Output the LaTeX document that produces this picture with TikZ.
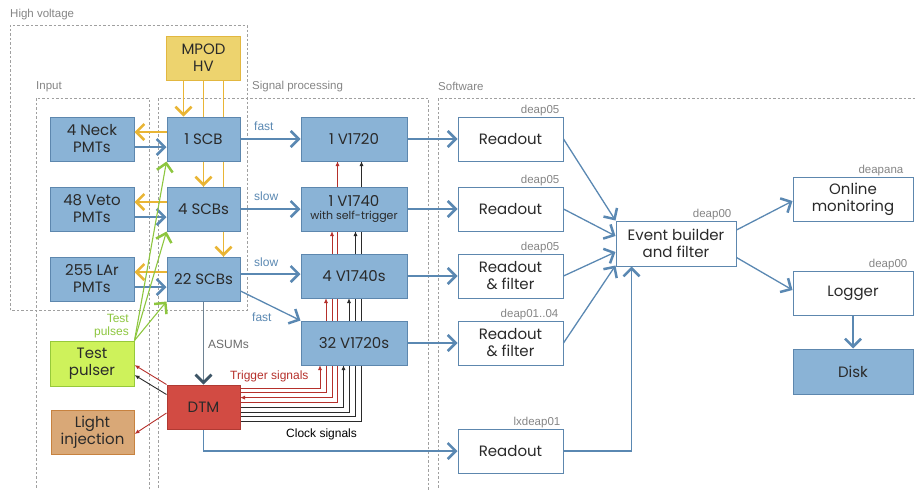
\documentclass[tikz,border=0pt]{standalone}
\usepackage{fontspec}
\setmainfont{Poppins}
\newfontfamily\lab{Liberation Sans}
\usetikzlibrary{arrows.meta,calc}
\definecolor{bfill}{HTML}{8AB3D6}
\definecolor{bborder}{HTML}{5D87AE}
\definecolor{sig}{HTML}{5A88B2}
\definecolor{sigdark}{HTML}{4A79A4}
\definecolor{org}{HTML}{E9B535}
\definecolor{mfill}{HTML}{EDD36E}
\definecolor{mborder}{HTML}{E2B740}
\definecolor{grn}{HTML}{8DC63F}
\definecolor{pfill}{HTML}{CEF25B}
\definecolor{pborder}{HTML}{97C93A}
\definecolor{lfill}{HTML}{D9A877}
\definecolor{lborder}{HTML}{C7823F}
\definecolor{dfill}{HTML}{D24B43}
\definecolor{dborder}{HTML}{B03A33}
\definecolor{wred}{HTML}{B5302B}
\definecolor{wblk}{HTML}{2A2A2A}
\definecolor{dgray}{HTML}{A0A0A0}
\definecolor{lgray}{HTML}{858585}
\definecolor{txt}{HTML}{2A2A2A}
\definecolor{asum}{HTML}{3D5566}
\definecolor{asumline}{HTML}{6E8394}
\begin{document}
\begin{tikzpicture}[x=1pt,y=-1pt,
  region/.style={draw=dgray, line width=0.8pt, dash pattern=on 2.5pt off 2pt},
  rlabel/.style={font=\lab\fontsize{11.5}{13}\selectfont, text=lgray, anchor=base west, inner sep=0pt},
  host/.style={font=\lab\fontsize{11.5}{13}\selectfont, text=lgray, anchor=base east, inner sep=0pt},
  slabel/.style={font=\lab\fontsize{12}{13}\selectfont, anchor=base west, inner sep=0pt},
  box/.style={draw=bborder, fill=bfill, line width=1pt, inner sep=0pt, align=center, font=\fontsize{15}{17}\selectfont, text=txt},
  wbox/.style={box, fill=white},
  chev/.style={-{Straight Barb[length=8pt,width=16pt,line width=2.5pt]}},
  sarrow/.style={draw=sig, line width=1.3pt, chev},
  oarrow/.style={draw=org, line width=1.4pt, chev},
  garrow/.style={draw=grn, line width=1.1pt, chev},
  oline/.style={draw=org, line width=1.4pt},
  rwire/.style={draw=wred, line width=0.9pt},
  bwire/.style={draw=wblk, line width=0.9pt},
  tip/.style={-{Latex[length=5pt,width=4pt]}}
]
\useasboundingbox (0,0) rectangle (916,490);
% regions
\draw[region] (10,310) rectangle (247,25);
\node[rlabel] (lhv) at (10,17.5) {High voltage};
\draw[region] (36,492) -- (36,98) -- (149,98) -- (149,492);
\node[rlabel] (lin) at (36,89.5) {Input};
\draw[region] (158,492) -- (158,98) -- (428,98) -- (428,492);
\node[rlabel] (lsp) at (252,89.5) {Signal processing};
\draw[region] (438,492) -- (438,98) -- (918,98);
\node[rlabel] (lsw) at (438,90.5) {Software};

% background HV lines (behind the SCB boxes)
\coordinate (mpodS) at (203.5,80);
\coordinate (scb4N) at (203.5,187);
\coordinate (scb22N) at (223.5,257);
\coordinate (mpodS2) at (223.5,80);
\draw[oline] (mpodS) -- (scb4N);
\draw[oline] (mpodS2) -- (scb22N);

% wire bundle (DTM right edge x=240, top y=385)
\coordinate (w1) at (240,388);
\coordinate (w2) at (240,392.8);
\coordinate (w3) at (240,397.6);
\coordinate (w4) at (240,402.4);
\coordinate (w5) at (240,407.2);
\coordinate (w6) at (240,412);
\coordinate (w7) at (240,416.8);
\coordinate (w8) at (240,421.6);
\coordinate (t1) at (320,365);
\coordinate (t2) at (326,298);
\coordinate (t3) at (332,231);
\coordinate (t4) at (337.5,161);
\coordinate (t5) at (343.5,365);
\coordinate (t6) at (349,298);
\coordinate (t7) at (355.5,231);
\coordinate (t8) at (361.5,161);
\draw[rwire,tip] (w1) -| (t1);
\draw[rwire,tip] (w2) -| (t2);
\draw[rwire,{Latex[length=5pt,width=4pt]}-{Latex[length=5pt,width=4pt]}] (w3) -| (t3);
\draw[rwire,tip] (w4) -| (t4);
\draw[bwire,tip] (w5) -| (t5);
\draw[bwire,tip] (w6) -| (t6);
\draw[bwire,tip] (w7) -| (t7);
\draw[bwire,tip] (w8) -| (t8);

% boxes
\node[box, fill=mfill, draw=mborder, minimum width=74pt, minimum height=44pt] (mpod) at (203.5,58) {MPOD\\HV};
\node[box, minimum width=84pt, minimum height=44pt] (neck) at (92,139) {4 Neck\\PMTs};
\node[box, minimum width=84pt, minimum height=44pt] (veto) at (92,209) {48 Veto\\PMTs};
\node[box, minimum width=84pt, minimum height=44pt] (lar) at (92,279) {255 LAr\\PMTs};
\node[box, minimum width=73pt, minimum height=44pt] (scb1) at (203.5,139) {1 SCB};
\node[box, minimum width=73pt, minimum height=44pt] (scb4) at (203.5,209) {4 SCBs};
\node[box, minimum width=73pt, minimum height=44pt] (scb22) at (203.5,279) {22 SCBs};
\node[box, minimum width=106pt, minimum height=44pt] (v1720) at (354,139) {1 V1720};
\node[box, minimum width=106pt, minimum height=44pt] (v1740) at (354,209) {1 V1740\\[-4pt]{\fontsize{11}{12}\selectfont with self-trigger}};
\node[box, minimum width=106pt, minimum height=44pt] (v1740s) at (354,276) {4 V1740s};
\node[box, minimum width=106pt, minimum height=44pt] (v1720s) at (354,343) {32 V1720s};
\node[box, fill=pfill, draw=pborder, minimum width=84pt, minimum height=45pt] (pulser) at (92,363.5) {Test\\pulser};
\node[box, fill=lfill, draw=lborder, minimum width=83pt, minimum height=44pt] (light) at (92.5,432) {Light\\injection};
\node[box, fill=dfill, draw=dborder, minimum width=73pt, minimum height=44pt] (dtm) at (203.5,407) {DTM};
\node[wbox, minimum width=105pt, minimum height=44pt] (ro1) at (510.5,139) {Readout};
\node[wbox, minimum width=105pt, minimum height=44pt] (ro2) at (510.5,209) {Readout};
\node[wbox, minimum width=105pt, minimum height=44pt] (ro3) at (510.5,276) {Readout\\\& filter};
\node[wbox, minimum width=105pt, minimum height=44pt] (ro4) at (510.5,343) {Readout\\\& filter};
\node[wbox, minimum width=105pt, minimum height=44pt] (ro5) at (510.5,451) {Readout};
\node[wbox, minimum width=120pt, minimum height=45pt] (evb) at (676,243.5) {Event builder\\and filter};
\node[wbox, minimum width=120pt, minimum height=44pt] (mon) at (853,199) {Online\\monitoring};
\node[wbox, minimum width=120pt, minimum height=44pt] (log) at (853,293) {Logger};
\node[box, minimum width=120pt, minimum height=45pt] (disk) at (853,371.5) {Disk};

% host labels
\node[host] (h1) at ($(ro1.north east)+(-4,-3.5)$) {deap05};
\node[host] (h2) at ($(ro2.north east)+(-4,-3.5)$) {deap05};
\node[host] (h3) at ($(ro3.north east)+(-4,-3.5)$) {deap05};
\node[host] (h4) at ($(ro4.north east)+(-5,-3.5)$) {deap01..04};
\node[host] (h5) at ($(ro5.north east)+(-3,-3.5)$) {lxdeap01};
\node[host] (h6) at ($(evb.north east)+(-5,-3.5)$) {deap00};
\node[host] (h7) at ($(mon.north east)+(-10,-3.5)$) {deapana};
\node[host] (h8) at ($(log.north east)+(-6,-3.5)$) {deap00};

% HV arrows
\draw[oarrow] ($(mpod.south)+(-20,0)$) -- ($(scb1.north)+(-20,0)$);
\draw[oarrow] (scb1.south) -- (scb4.north);
\draw[oarrow] ($(scb4.south)+(20,0)$) -- ($(scb22.north)+(20,0)$);
\draw[oarrow] ($(scb1.west)+(0,-7)$) -- ($(neck.east)+(0,-7)$);
\draw[oarrow] ($(scb4.west)+(0,-7)$) -- ($(veto.east)+(0,-7)$);
\draw[oarrow] ($(scb22.west)+(0,-7)$) -- ($(lar.east)+(0,-7)$);
% PMT signals
\draw[sarrow] ($(neck.east)+(0,8)$) -- ($(scb1.west)+(0,8)$);
\draw[sarrow] ($(veto.east)+(0,8)$) -- ($(scb4.west)+(0,8)$);
\draw[sarrow] ($(lar.east)+(0,8)$) -- ($(scb22.west)+(0,8)$);
% test pulses
\draw[garrow] (pulser.north east) -- (scb1.south west);
\draw[garrow] (pulser.north east) -- (scb4.south west);
\draw[garrow] (pulser.north east) -- (scb22.south west);
\node[font=\lab\fontsize{12}{13.5}\selectfont, text=grn, align=right, anchor=north east, inner sep=0pt] (tp) at (129,314) {Test\\pulses};
% SCB to digitizers
\draw[sarrow] (scb1.east) -- (v1720.west);
\draw[sarrow] (scb4.east) -- (v1740.west);
\draw[sarrow] ($(scb22.east)+(0,-5)$) -- ($(v1740s.west)+(0,-2)$);
\draw[sarrow] ($(scb22.east)+(0,12)$) -- (v1720s.north west);
\node[slabel, text=sig] (f1) at (254,130) {fast};
\node[slabel, text=sig] (s1) at (254,200) {slow};
\node[slabel, text=sig] (s2) at (254,266) {slow};
\node[slabel, text=sig] (f2) at (252,321) {fast};
% ASUMs
\draw[draw=asumline, line width=1.3pt] (scb22.south) -- ($(dtm.north)+(0,-4)$);
\draw[draw=asum, line width=1.3pt, -{Straight Barb[length=8pt,width=16pt,line width=2.8pt]}] ($(dtm.north)+(0,-5)$) -- (dtm.north);
\node[slabel, text=lgray!80!black] (as) at (208,348) {ASUMs};
% DTM outputs
\draw[rwire, -{Latex[length=5pt,width=4pt]}] (dtm.north west) -- ($(pulser.east)+(0,1.5)$);
\draw[bwire, -{Latex[length=5pt,width=4pt]}] ($(dtm.north west)+(0,10)$) -- ($(pulser.east)+(0,11.5)$);
\draw[rwire, -{Latex[length=5pt,width=4pt]}] ($(dtm.west)+(0,6)$) -- ($(light.east)+(0,2)$);
\node[slabel, text=wred] (trg) at (230,379) {Trigger signals};
\node[slabel, text=black] (clk) at (286,437) {Clock signals};
% digitizers to readouts
\draw[sarrow] (v1720.east) -- (ro1.west);
\draw[sarrow] (v1740.east) -- (ro2.west);
\draw[sarrow] (v1740s.east) -- (ro3.west);
\draw[sarrow] (v1720s.east) -- (ro4.west);
\draw[sarrow] (dtm.south) |- (ro5.west);
% readouts to event builder
\draw[sarrow] (ro1.east) -- (evb.north west);
\draw[sarrow] (ro2.east) -- ($(evb.west)+(0,-7.5)$);
\draw[sarrow] (ro3.east) -- ($(evb.west)+(0,8.5)$);
\draw[sarrow] (ro4.east) -- ($(evb.south west)+(0,-1)$);
\draw[sarrow] (ro5.east) -| ($(evb.south west)+(16,0)$);
\draw[sarrow] ($(evb.east)+(0,-13.5)$) -- ($(mon.west)+(0,2)$);
\draw[sarrow] ($(evb.east)+(0,14)$) -- ($(log.west)+(0,-3)$);
\draw[sarrow] (log.south) -- (disk.north);
\end{tikzpicture}
\end{document}
